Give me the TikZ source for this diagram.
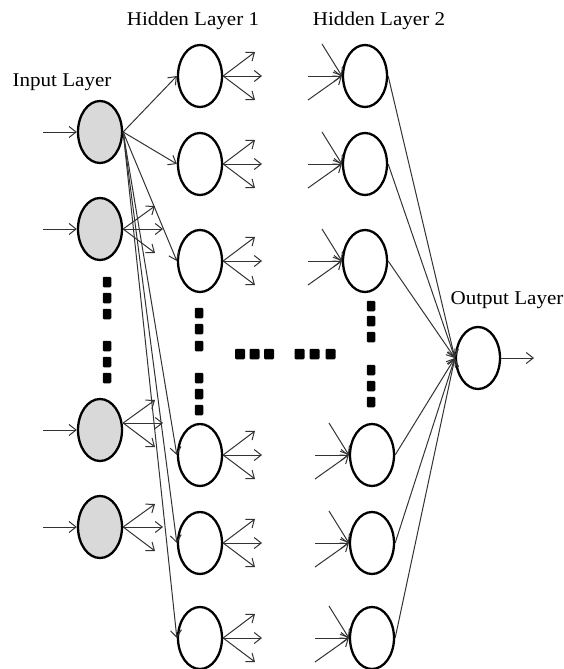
\documentclass[tikz,border=0pt]{standalone}
\usepackage{fontspec}
\setmainfont{Liberation Serif}[FakeStretch=1.08]
\usetikzlibrary{shapes.geometric,arrows.meta}
\definecolor{nodegray}{HTML}{D9D9D9}
\definecolor{edgecol}{HTML}{333333}
\begin{document}
\begin{tikzpicture}[x=1pt,y=-1pt,
  neuron/.style={draw=black, line width=2.3pt, ellipse, minimum width=44pt, minimum height=62pt, inner sep=0pt},
  inneuron/.style={neuron, fill=nodegray},
  conn/.style={draw=edgecol, line width=1pt, -{Straight Barb[length=7pt,width=11pt]}},
  dotbox/.style={fill=black, rounded corners=1.2pt, minimum width=8.5pt, minimum height=10.5pt, inner sep=0pt},
  hdotbox/.style={dotbox, minimum width=10pt},
  lbl/.style={font=\fontsize{19.5}{22}\selectfont, anchor=base, inner sep=0pt}]
\useasboundingbox (0,0) rectangle (564,669);

% labels
\node[lbl] (lin) at (62,86) {Input Layer};
\node[lbl] (lh1) at (193,26) {Hidden Layer 1};
\node[lbl] (lh2) at (379,26) {Hidden Layer 2};
\node[lbl] (lout) at (507,304) {Output Layer};

% input layer
\node[inneuron] (i1) at (100,132) {};
\node[inneuron] (i2) at (100,229) {};
\node[inneuron] (i3) at (100,430) {};
\node[inneuron] (i4) at (100,527) {};

% hidden layer 1
\node[neuron] (ha1) at (200,76) {};
\node[neuron] (ha2) at (200,164) {};
\node[neuron] (ha3) at (200,261) {};
\node[neuron] (ha4) at (200,455) {};
\node[neuron] (ha5) at (200,543) {};
\node[neuron] (ha6) at (200,638) {};

% hidden layer 2
\node[neuron] (hb1) at (365,76) {};
\node[neuron] (hb2) at (365,164) {};
\node[neuron] (hb3) at (365,261) {};
\node[neuron] (hb4) at (372,455) {};
\node[neuron] (hb5) at (372,543) {};
\node[neuron] (hb6) at (372,638) {};

% output
\node[neuron] (out) at (478,358) {};

% dots
\foreach \n/\y in {1/282,2/298,3/314,4/346,5/362,6/378}
  \node[dotbox] (di\n) at (107,\y) {};
\foreach \n/\y in {1/313,2/329,3/346,4/378,5/394,6/410}
  \node[dotbox] (da\n) at (199,\y) {};
\foreach \n/\y in {1/306,2/321,3/337,4/370,5/386,6/402}
  \node[dotbox] (db\n) at (371,\y) {};
\foreach \n/\x in {1/240,2/254.5,3/269,4/299.5,5/314.5,6/330.5}
  \node[hdotbox] (dh\n) at (\x,354) {};

% input arrows
\foreach \n/\y in {1/132,2/229,3/430,4/527} {
  \coordinate (ia\n) at (43,\y);
  \draw[conn] (ia\n) -- (i\n.west);
}

% input 1 to all hidden 1
\foreach \k in {1,...,6}
  \draw[conn] (i1.east) -- (ha\k.west);

% fans from other inputs
\foreach \n/\y/\s in {2/229/0,3/423/7,4/527/0} {
  \coordinate (fo\n) at ([yshift=\s pt]i\n.east);
  \coordinate (fa\n) at (155,\y-23);
  \coordinate (fb\n) at (163,\y);
  \coordinate (fc\n) at (155,\y+24);
  \draw[conn] (fo\n) -- (fa\n);
  \draw[conn] (fo\n) -- (fb\n);
  \draw[conn] (fo\n) -- (fc\n);
}

% fans from hidden layer 1
\foreach \k/\y in {1/76,2/164,3/261,4/455,5/543,6/638} {
  \coordinate (ga\k) at (255,\y-24);
  \coordinate (gb\k) at (262,\y);
  \coordinate (gc\k) at (255,\y+24);
  \draw[conn] (ha\k.east) -- (ga\k);
  \draw[conn] (ha\k.east) -- (gb\k);
  \draw[conn] (ha\k.east) -- (gc\k);
}

% incoming to hidden layer 2
\foreach \k/\x/\y in {1/0/76,2/0/164,3/0/261,4/7/455,5/7/543,6/7/638} {
  \coordinate (ka\k) at (322+\x,\y-32);
  \coordinate (kb\k) at (308+\x,\y);
  \coordinate (kc\k) at (308+\x,\y+24);
  \draw[conn] (ka\k) -- (hb\k.west);
  \draw[conn] (kb\k) -- (hb\k.west);
  \draw[conn] (kc\k) -- (hb\k.west);
}

% hidden layer 2 to output
\foreach \k in {1,...,6}
  \draw[conn] (hb\k.east) -- (out.west);

% output arrow
\coordinate (oend) at (534,358);
\draw[conn] (out.east) -- (oend);
\end{tikzpicture}
\end{document}
